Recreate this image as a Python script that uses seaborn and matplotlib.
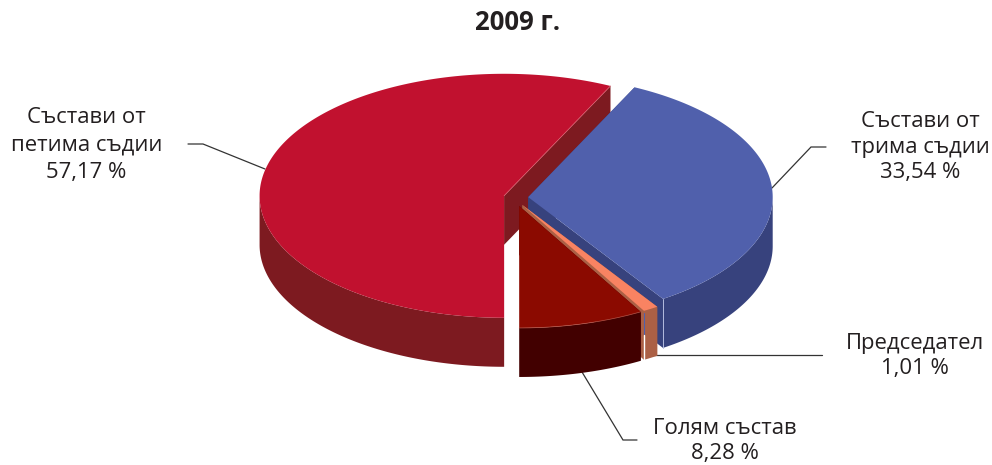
import numpy as np
import matplotlib
matplotlib.use("Agg")
import matplotlib.pyplot as plt
import seaborn as sns

# Data
categories = ["Състави от\nпетима съдии", "Състави от\nтрима съдии", "Председател", "Голям състав"]
values = [57.17, 33.54, 1.01, 8.28]
value_labels = ["57,17 %", "33,54 %", "1,01 %", "8,28 %"]
title = "2009 г."

# Style
top_colors = sns.color_palette(["#C1112F", "#5060AC", "#F98362", "#8B0A00"])
wall_colors = sns.color_palette(["#7D1A20", "#37427D", "#AB6045", "#420000"])
edge_colors = sns.color_palette(["#D9606F", "#8E98CC", "#F98362", "#B5564A"])
explode = [0.05, 0.05, 0.05, 0.05]
start_angle = 64.2       # degrees, where red meets blue
origin = (516.0, 197.7)
rx, ry = 244.5, 122.0
depth = 49.0
y_squash = 0.7

sns.set_theme(style="white")
plt.rcParams["font.family"] = ["Open Sans", "DejaVu Sans"]

fig = plt.figure(figsize=(9.92, 4.65), dpi=100)
ax = fig.add_axes([0, 0, 1, 1])
ax.set_xlim(0, 992)
ax.set_ylim(465, 0)
ax.axis("off")


def rim(cx, cy, a0, a1):
    t = np.radians(np.linspace(a0, a1, 300))
    return cx + rx * np.cos(t), cy - ry * np.sin(t)


shares = np.array(values) / sum(values) * 360
spans = [
    (start_angle, start_angle + shares[0]),
    (start_angle - shares[1], start_angle),
    (start_angle - shares[1] - shares[2], start_angle - shares[1]),
    (start_angle - shares[1] - shares[2] - shares[3], start_angle - shares[1] - shares[2]),
]

for i, (a0, a1) in enumerate(spans):
    mid = np.radians((a0 + a1) / 2)
    cx = origin[0] + explode[i] * rx * np.cos(mid)
    cy = origin[1] - explode[i] * rx * y_squash * np.sin(mid)
    top, wall, edge = top_colors[i], wall_colors[i], edge_colors[i]
    base = i * 4
    # radial walls
    for a in (a0, a1):
        ex, ey = rim(cx, cy, a, a)
        ax.fill([cx, ex[0], ex[0], cx], [cy, ey[0], ey[0] + depth, cy + depth],
                color=wall, lw=0, zorder=base + 1)
    # outer wall: only the front part of the rim
    for s0, s1 in ((max(a0, -180), min(a1, 0)), (max(a0, 180), min(a1, 360))):
        if s1 > s0:
            x, y = rim(cx, cy, s0, s1)
            ax.fill(np.r_[x, x[::-1]], np.r_[y, y[::-1] + depth], color=wall, lw=0, zorder=base + 2)
    # top face
    x, y = rim(cx, cy, a0, a1)
    ax.fill(np.r_[cx, x], np.r_[cy, y], color=top, lw=0, zorder=base + 3)
    if i == 0:   # light seam along the cut edge of the red slice
        ex, ey = rim(cx, cy, a0, a0)
        ax.plot([cx, ex[0]], [cy, ey[0]], color=edge, lw=0.5, zorder=base + 3.5)
    if i == 1:   # light seam on the front corner of the blue slice
        ex, ey = rim(cx, cy, a0, a0)
        ax.plot([ex[0], ex[0]], [ey[0], ey[0] + depth], color="#B4BCDF", lw=0.7, zorder=base + 3.5)
    if i == 2:   # seam on the orange slice wall
        ex, ey = rim(cx, cy, a0, a0)
        ax.plot([ex[0] + 0.5] * 2, [ey[0] + 2, ey[0] + 24], color="#5060AC", lw=0.8, zorder=base + 3.5)
        ax.plot([ex[0] + 0.5] * 2, [ey[0] + 24, ey[0] + depth], color="white", lw=1.0, zorder=base + 3.5)
    if i == 3:   # light seam along the rim of the dark slice
        x, y = rim(cx, cy, a0, a1)
        ax.plot(x, y, color=edge, lw=0.5, zorder=base + 3.5)

line_col = "#333333"
for xs, ys in [((188, 203, 265), (144, 144, 169)),
               ((826, 811, 772), (147, 147, 188)),
               ((652, 822), (355, 355)),
               ((582, 623, 637), (372, 440, 440))]:
    ax.plot(xs, ys, color=line_col, lw=0.9, zorder=1, solid_joinstyle="miter")

fs = 15.9
txt = dict(fontsize=fs, color="#231F20", ha="center", va="center")
ax.text(86.5, 145, f"{categories[0]}\n{value_labels[0]}", linespacing=1.40, **txt)
ax.text(920, 147, f"{categories[1]}\n{value_labels[1]}", linespacing=1.29, **txt)
ax.text(915, 356, f"{categories[2]}\n{value_labels[2]}", linespacing=1.29, **txt)
ax.text(725, 441, f"{categories[3]}\n{value_labels[3]}", linespacing=1.29, **txt)
ax.text(517.5, 22, title, fontsize=18.5, fontweight="bold", color="#231F20", ha="center", va="center")

fig.savefig("out.png", dpi=100)
